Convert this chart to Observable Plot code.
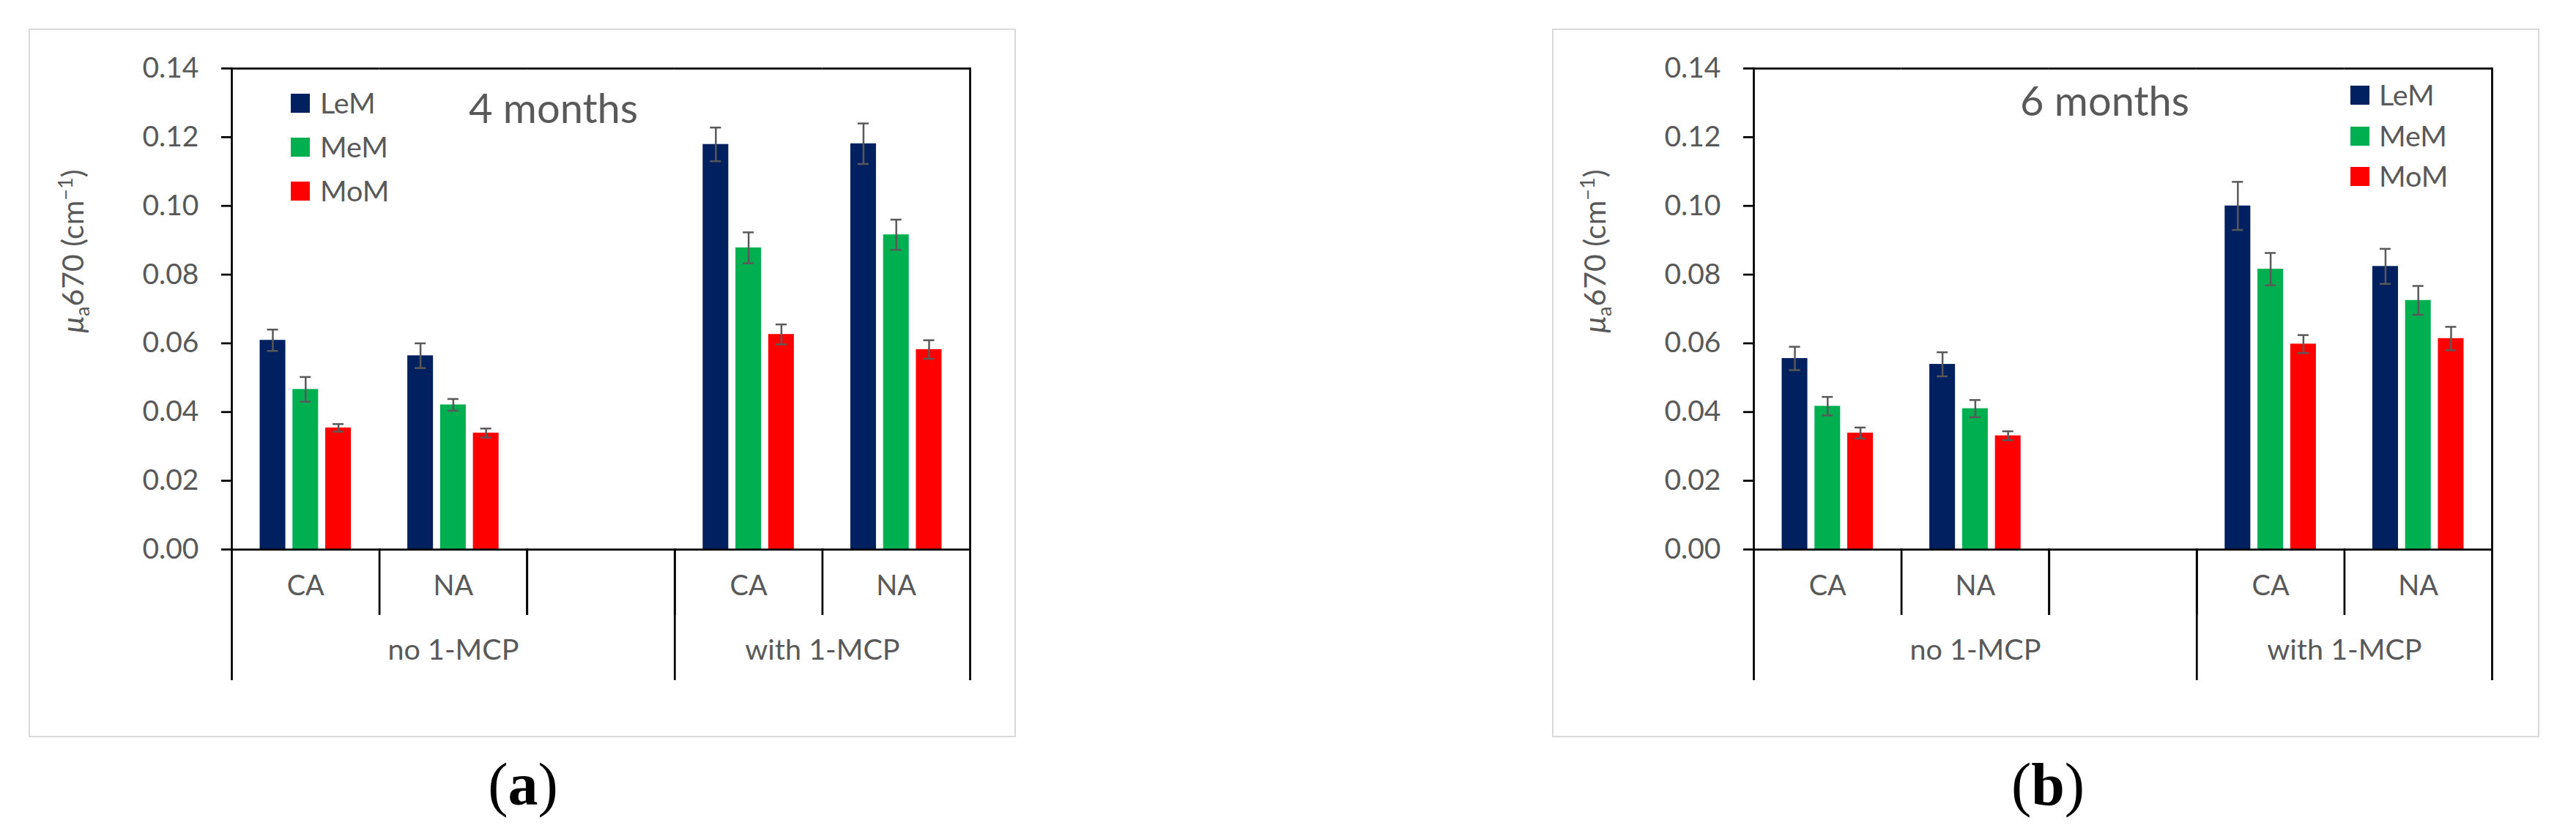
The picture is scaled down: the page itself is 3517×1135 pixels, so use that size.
<!DOCTYPE html>
<html><head><meta charset="utf-8">
<script src="https://cdn.jsdelivr.net/npm/d3@7"></script>
<script src="https://cdn.jsdelivr.net/npm/@observablehq/plot@0.6"></script>
<style>
html,body{margin:0;padding:0;background:#fff;}
#page{position:relative;width:3517px;height:1135px;overflow:hidden;font-family:Lato,sans-serif;background:#fff;}
.frame{position:absolute;box-sizing:border-box;border:2.5px solid #d9d9d9;background:#fff;}
.chart{position:absolute;top:40px;}
.cap{position:absolute;font-family:"Liberation Serif","Times New Roman",serif;font-size:82px;line-height:1;color:#000;transform:translateX(-50%);white-space:nowrap;}
</style></head><body><div id="page"></div>
<script>
// ---------- data ----------
const slotKeys = ["noCA", "noNA", "gap", "wCA", "wNA"];
const slotLabels = ["CA", "NA", "", "CA", "NA"];
const dataSlots = ["noCA", "noNA", "wCA", "wNA"];
const groupLabels = ["no 1-MCP", "with 1-MCP"];
const groupSlots = ["noNA", "wNA"];
const seriesNames = ["LeM", "MeM", "MoM"];
const seriesColors = ["#002060", "#00B050", "#FF0000"];
const yTicks = [0, 0.02, 0.04, 0.06, 0.08, 0.10, 0.12, 0.14];
const panelTitles = ["4 months", "6 months"];
const panelLetters = ["a", "b"];

// (a) 4 months — values in order of dataSlots
const a_LeM = [0.0609, 0.0564, 0.1179, 0.1181];
const a_LeM_err = [0.0031, 0.0036, 0.0049, 0.0059];
const a_MeM = [0.0466, 0.0421, 0.0878, 0.0916];
const a_MeM_err = [0.0036, 0.0017, 0.0045, 0.0044];
const a_MoM = [0.0354, 0.0339, 0.0626, 0.0582];
const a_MoM_err = [0.0011, 0.0013, 0.0029, 0.0027];

// (b) 6 months
const b_LeM = [0.0556, 0.0539, 0.1000, 0.0824];
const b_LeM_err = [0.0034, 0.0035, 0.0070, 0.0051];
const b_MeM = [0.0417, 0.0410, 0.0816, 0.0725];
const b_MeM_err = [0.0027, 0.0025, 0.0047, 0.0042];
const b_MoM = [0.0339, 0.0331, 0.0598, 0.0614];
const b_MoM_err = [0.0016, 0.0013, 0.0026, 0.0034];

// ---------- layout ----------
const W = 1345, H = 965, mL = 276, mR = 61, mT = 53, mB = 255;
const innerH = H - mT - mB;
const longDrop = 177, shortDrop = 88;
const TEXT = "#595959";
const line = {stroke: "#000", strokeWidth: 2.75};

const panels = [
  {values: [a_LeM, a_MeM, a_MoM], errors: [a_LeM_err, a_MeM_err, a_MoM_err],
   svgLeft: 40, frameLeft: 39, capX: 714,
   legendX: 357, legendTops: [88, 148, 208], legendTextX: 397,
   titleX: 600, titleBase: 128},
  {values: [b_LeM, b_MeM, b_MoM], errors: [b_LeM_err, b_MeM_err, b_MoM_err],
   svgLeft: 2118, frameLeft: 2118.5, capX: 2796,
   legendX: 1091, legendTops: [77, 133, 188], legendTextX: 1130,
   titleX: 640, titleBase: 118}
];

const page = document.getElementById("page");

panels.forEach((p, pi) => {
  const rows = [];
  seriesNames.forEach((s, si) => dataSlots.forEach((slot, i) =>
    rows.push({slot, series: s, value: p.values[si][i], err: p.errors[si][i]})));
  const catRows = slotKeys.map((k, i) => ({slot: k, label: slotLabels[i]})).filter(d => d.label);

  const fr = document.createElement("div");
  fr.className = "frame";
  fr.style.left = p.frameLeft + "px"; fr.style.top = "39px";
  fr.style.width = "1348px"; fr.style.height = "968px";
  page.appendChild(fr);

  const errStyle = {stroke: TEXT, strokeWidth: 2.5};
  const svg = Plot.plot({
    width: W, height: H,
    marginLeft: mL, marginRight: mR, marginTop: mT, marginBottom: mB,
    style: {fontFamily: "Lato, sans-serif", fontSize: "39px", color: TEXT, background: "transparent", overflow: "visible"},
    fx: {domain: slotKeys, padding: 0, round: false, axis: null},
    x: {domain: seriesNames, paddingInner: 0.217, paddingOuter: 0.86, round: false, axis: null},
    y: {domain: [0, 0.14], axis: null},
    color: {domain: seriesNames, range: seriesColors},
    marks: [
      Plot.barY(rows, {fx: "slot", x: "series", y: "value", fill: "series"}),
      Plot.ruleX(rows, {fx: "slot", x: "series", y1: d => d.value - d.err, y2: d => d.value + d.err, ...errStyle}),
      Plot.tickY(rows, {fx: "slot", x: "series", y: d => d.value + d.err, insetLeft: 10, insetRight: 10, ...errStyle}),
      Plot.tickY(rows, {fx: "slot", x: "series", y: d => d.value - d.err, insetLeft: 10, insetRight: 10, ...errStyle}),
      Plot.ruleY([0.14], line),
      Plot.ruleY([0], line),
      Plot.axisY({ticks: yTicks, tickFormat: d3.format(".2f"), tickSize: 14, tickPadding: 31,
                  stroke: "#000", strokeWidth: 2.75, fill: TEXT, fontSize: 39, label: null}),
      Plot.frame({anchor: "left", fx: "noCA", insetBottom: -longDrop, ...line}),
      Plot.frame({anchor: "right", fx: "wNA", insetBottom: -longDrop, ...line}),
      Plot.frame({anchor: "left", fx: "wCA", insetTop: innerH, insetBottom: -longDrop, ...line}),
      ...slotKeys.slice(1).map(k => Plot.frame({anchor: "left", fx: k, insetTop: innerH, insetBottom: -shortDrop, ...line})),
      Plot.frame({anchor: "right", fx: "noNA", insetTop: innerH, insetBottom: -shortDrop, ...line}),
      Plot.text(catRows, {fx: "slot", text: "label", frameAnchor: "bottom", dy: 62, fontSize: 38, fill: TEXT}),
      Plot.text([{slot: groupSlots[0], label: groupLabels[0]}], {fx: "slot", text: "label", frameAnchor: "bottom", dy: 150, fontSize: 39.5, fill: TEXT}),
      Plot.text([{slot: groupSlots[1], label: groupLabels[1]}], {fx: "slot", text: "label", frameAnchor: "bottom-left", textAnchor: "middle", dy: 150, fontSize: 39.5, fill: TEXT})
    ]
  });
  svg.classList.add("chart");
  svg.style.left = p.svgLeft + "px";
  page.appendChild(svg);

  const s = d3.select(svg);
  // y axis title
  const yt = s.append("text")
    .attr("transform", "translate(73.5,303) rotate(-90)")
    .attr("text-anchor", "middle").attr("fill", TEXT)
    .attr("font-size", 41).attr("font-family", "Lato, sans-serif");
  yt.append("tspan").attr("font-style", "italic").text("μ");
  yt.append("tspan").attr("font-size", 27).attr("dy", 8).text("a");
  yt.append("tspan").attr("dy", -8).text("670 (cm");
  yt.append("tspan").attr("font-size", 27).attr("dy", -15).text("−1");
  yt.append("tspan").attr("dy", 15).text(")");

  // panel title
  s.append("text").attr("x", p.titleX).attr("y", p.titleBase)
    .attr("text-anchor", "start")
    .attr("fill", TEXT).attr("font-size", 56).attr("font-family", "Lato, sans-serif")
    .text(panelTitles[pi]);

  // legend
  seriesNames.forEach((name, i) => {
    s.append("rect").attr("x", p.legendX).attr("y", p.legendTops[i])
      .attr("width", 26).attr("height", 26).attr("fill", seriesColors[i]);
    s.append("text").attr("x", p.legendTextX).attr("y", p.legendTops[i] + 27)
      .attr("text-anchor", "start")
      .attr("fill", TEXT).attr("font-size", 39.5).attr("font-family", "Lato, sans-serif")
      .text(name);
  });

  // caption
  const cap = document.createElement("div");
  cap.className = "cap";
  cap.style.left = p.capX + "px"; cap.style.top = "1031px";
  cap.innerHTML = "(<b>" + panelLetters[pi] + "</b>)";
  page.appendChild(cap);
});
</script></body></html>
